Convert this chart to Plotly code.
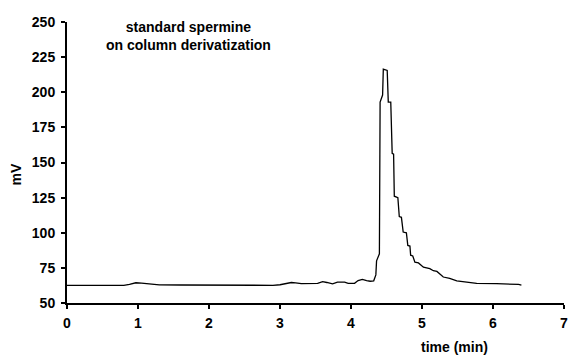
import plotly.graph_objects as go

# chromatogram trace: time (min) and detector signal (mV)
time_min = [0.00, 0.50, 0.80, 0.88, 0.97, 1.05, 1.15, 1.30, 1.60, 2.00, 2.50, 2.90, 3.00,
            3.08, 3.16, 3.22, 3.30, 3.53, 3.60, 3.66, 3.74, 3.81, 3.91, 3.96, 4.05, 4.10,
            4.16, 4.22, 4.27, 4.32, 4.35, 4.36, 4.39, 4.40, 4.41, 4.43, 4.445, 4.455,
            4.51, 4.525, 4.56, 4.58, 4.60, 4.61, 4.66, 4.68, 4.71, 4.735, 4.78, 4.80,
            4.83, 4.84, 4.87, 4.90, 4.95, 5.02, 5.11, 5.16, 5.21, 5.30, 5.39, 5.49,
            5.67, 5.77, 6.05, 6.30, 6.36, 6.40]
signal_mv = [62.6, 62.5, 62.6, 63.2, 64.4, 64.2, 63.5, 62.9, 62.8, 62.6, 62.6, 62.6, 63.0,
             64.0, 64.6, 64.3, 63.8, 63.9, 65.2, 64.6, 63.6, 64.8, 64.8, 63.9, 64.0, 66.0,
             66.8, 66.0, 65.5, 65.8, 70.0, 80.0, 84.5, 85.0, 193.0, 196.0, 198.0, 216.5,
             215.5, 193.0, 193.0, 156.5, 156.0, 126.0, 125.0, 111.5, 111.0, 100.5, 100.0,
             91.0, 90.5, 84.0, 83.5, 79.0, 78.5, 75.5, 74.5, 73.0, 72.5, 68.5, 67.5, 65.8,
             64.3, 64.0, 63.8, 63.5, 63.2, 62.7]

x_ticks = [0, 1, 2, 3, 4, 5, 6, 7]
y_ticks = [50, 75, 100, 125, 150, 175, 200, 225, 250]

FONT = "Liberation Sans, Arial, sans-serif"

L, R, T, B = 67, 4, 22, 53
PW, PH = 572 - L - R, 356 - T - B

def px(xpix):
    return (xpix - L) / PW

def py(ypix):
    return (356 - B - ypix) / PH

fig = go.Figure()
fig.add_trace(go.Scatter(
    x=time_min, y=signal_mv, mode="lines",
    line=dict(color="black", width=1.3, shape="linear"),
    showlegend=False, hoverinfo="skip", cliponaxis=False,
))

axis_common = dict(
    showgrid=False, zeroline=False, showline=True, linecolor="black", linewidth=2,
    ticks="outside", ticklen=4, tickwidth=2, tickcolor="black",
    ticklabeloverflow="allow",
    tickfont=dict(family=FONT, size=14, color="black", weight=700),
)

fig.update_layout(
    width=572, height=356,
    margin=dict(l=L, r=R, t=T, b=B),
    paper_bgcolor="white", plot_bgcolor="white",
    xaxis=dict(range=[0, 7], tickvals=x_ticks, ticklabelstandoff=2, **axis_common),
    yaxis=dict(range=[50, 250], tickvals=y_ticks, ticklabelstandoff=3, **axis_common),
    annotations=[
        dict(text="standard spermine<br>on column derivatization",
             xref="paper", yref="paper", x=px(189), y=py(36),
             xanchor="center", yanchor="middle", showarrow=False,
             font=dict(family=FONT, size=14, color="black", weight=700)),
        dict(text="mV", xref="paper", yref="paper", x=px(16), y=py(174),
             xanchor="center", yanchor="middle", showarrow=False, textangle=-90,
             font=dict(family=FONT, size=14, color="black", weight=700)),
        dict(text="time (min)", xref="paper", yref="paper", x=px(458), y=py(347),
             xanchor="center", yanchor="middle", showarrow=False,
             font=dict(family=FONT, size=14, color="black", weight=700)),
    ],
)

fig.write_html("out.html")
